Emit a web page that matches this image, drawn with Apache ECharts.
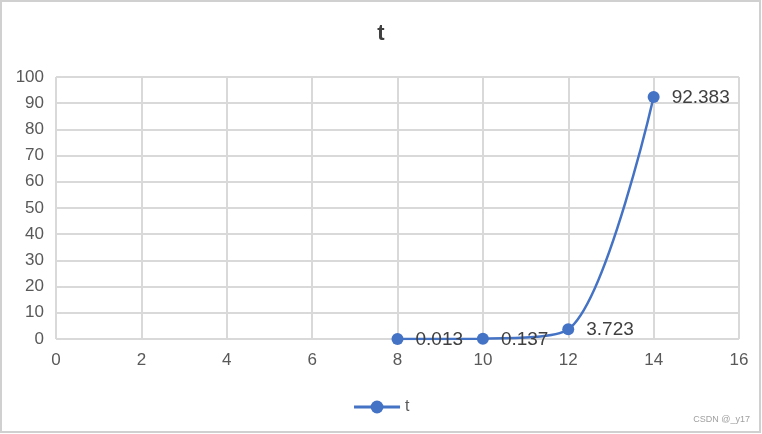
<!DOCTYPE html>
<html><head><meta charset="utf-8">
<script src="https://cdn.jsdelivr.net/npm/echarts@6/dist/echarts.min.js"></script>
<style>html,body{margin:0;padding:0;background:#fff}#c{width:762px;height:434px}</style>
</head><body><div id="c"></div>
<script>
const xValues = [8, 10, 12, 14];
const tValues = [0.013, 0.137, 3.723, 92.383];
const seriesName = 't';
const titleText = 't';
const watermark = 'CSDN @_y17';

const chart = echarts.init(document.getElementById('c'), null, {renderer: 'canvas'});
const font = 'Liberation Sans, Arial, sans-serif';
chart.setOption({
  animation: false,
  backgroundColor: '#fff',
  title: {text: titleText, left: 'center', top: 18, textStyle: {fontFamily: font, fontSize: 22, fontWeight: 'bold', color: '#404040'}},
  legend: {bottom: 14, left: 'center', itemWidth: 46, itemHeight: 16, itemGap: 6,
    lineStyle: {width: 3},
    textStyle: {fontFamily: font, fontSize: 16, color: '#595959'}, data: [seriesName]},
  grid: {left: 56, right: 23, top: 77, bottom: 95},
  xAxis: {type: 'value', min: 0, max: 16, interval: 2,
    axisLine: {show: false}, axisTick: {show: false},
    axisLabel: {fontFamily: font, fontSize: 17, color: '#595959', margin: 13},
    splitLine: {show: true, lineStyle: {color: '#d9d9d9', width: 2}}},
  yAxis: {type: 'value', min: 0, max: 100, interval: 10,
    axisLine: {show: false}, axisTick: {show: false},
    axisLabel: {fontFamily: font, fontSize: 17, color: '#595959', margin: 12},
    splitLine: {show: true, lineStyle: {color: '#d9d9d9', width: 2}}},
  graphic: [
    {type: 'rect', shape: {x: 1, y: 1, width: 759, height: 431}, style: {fill: 'none', stroke: '#d0d0d0', lineWidth: 2}, silent: true, z: 100},
    {type: 'text', right: 12, bottom: 10, style: {text: watermark, fontFamily: font, fontSize: 9, fill: '#a0a0a0'}}
  ],
  series: [{
    name: seriesName, type: 'line', smooth: 0.3,
    data: xValues.map((x, i) => [x, tValues[i]]),
    symbol: 'circle', symbolSize: 12,
    lineStyle: {color: '#4472C4', width: 2.5},
    itemStyle: {color: '#4472C4'},
    label: {show: true, position: 'right', distance: 12, offset: [0, 1], fontFamily: font, fontSize: 19, color: '#404040',
      formatter: p => String(p.value[1])}
  }]
});
</script></body></html>
